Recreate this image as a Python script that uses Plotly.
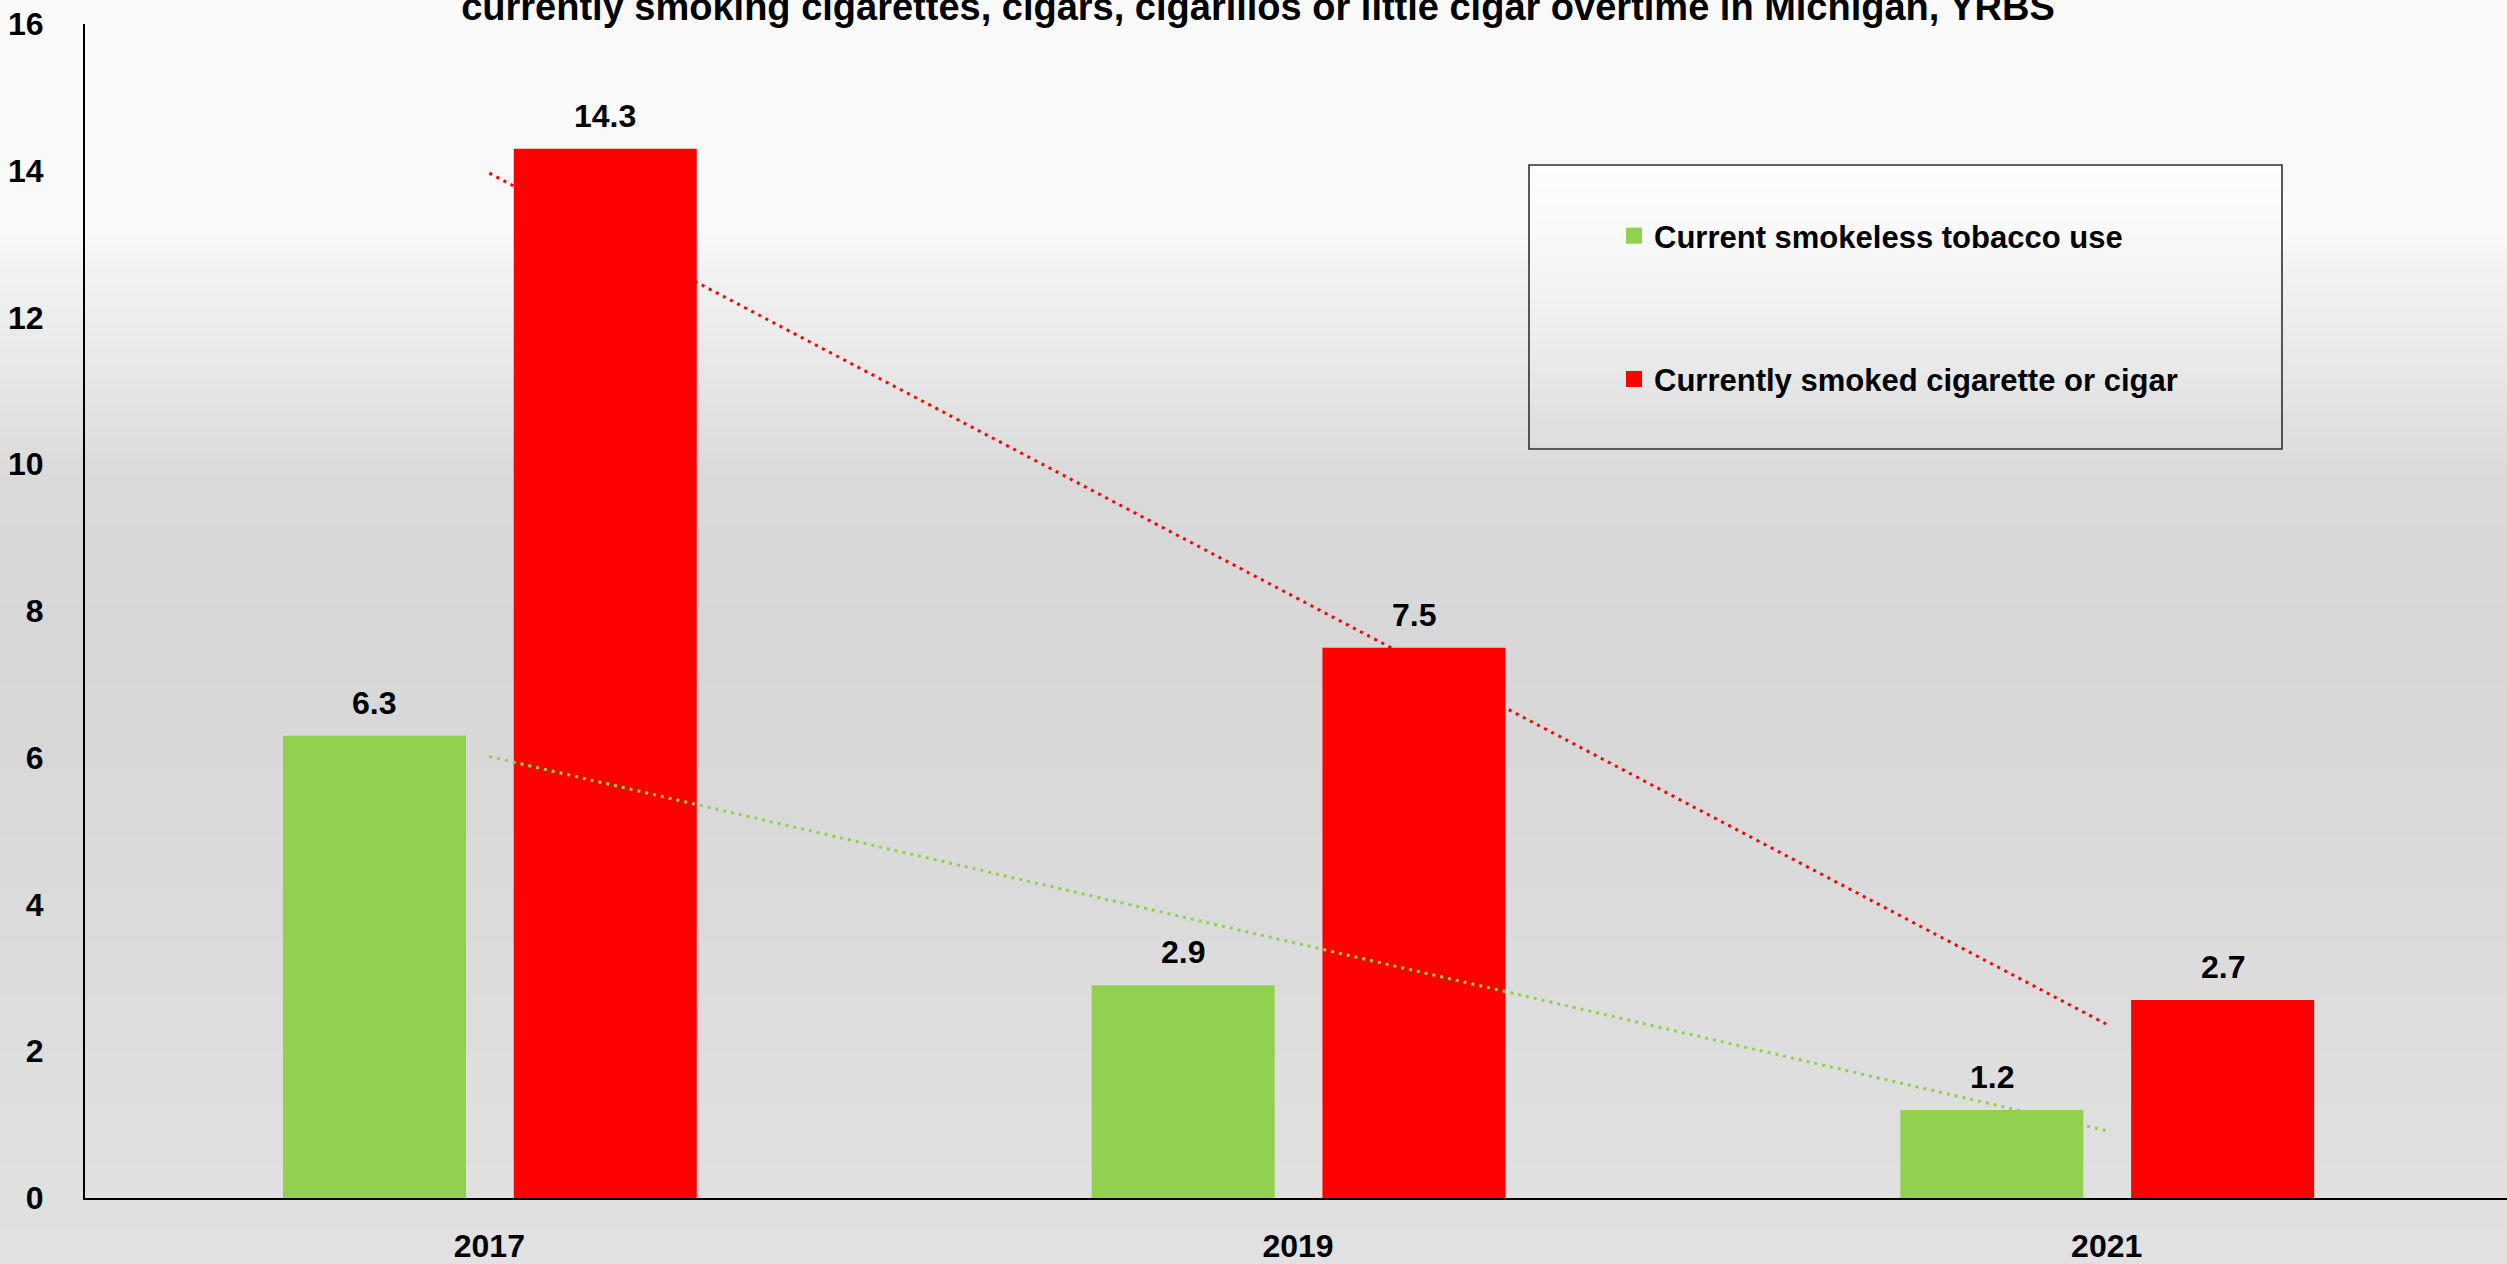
import numpy as np
import plotly.graph_objects as go

# ---------------- data ----------------
years = ["2017", "2019", "2021"]
smokeless = [6.3, 2.9, 1.2]
smoked = [14.3, 7.5, 2.7]
name_smokeless = "Current smokeless tobacco use"
name_smoked = "Currently smoked cigarette or cigar"
title_text = "currently smoking cigarettes, cigars, cigarillos or little cigar overtime in Michigan, YRBS"
y_ticks = [0, 2, 4, 6, 8, 10, 12, 14, 16]

# ---------------- style ----------------
W, H = 2507, 1264
L, R, T, B = 85, 0, 24, 66
PW, PH = W - L - R, H - T - B
FONT = "Liberation Sans, Arial, sans-serif"
GREEN = "#92D050"
RED = "#FF0000"
BAR_W = 0.2263
OFF_GREEN = -0.2552
OFF_RED = 0.0302
XRANGE = [-0.5, 2.495]


def px_x(px):
    return (px - L) / PW


def px_y(py):
    return (T + PH - py) / PH


def interp_gray(stops, t):
    ts = [s[0] for s in stops]
    vs = [s[1] for s in stops]
    v = float(np.interp(t, ts, vs))
    c = int(round(v))
    return f"rgb({c},{c},{c})"


# trend lines (linear least squares like Excel's trendline)
xi = np.arange(len(years))
tr_green = np.polyval(np.polyfit(xi, smokeless, 1), xi)
tr_red = np.polyval(np.polyfit(xi, smoked, 1), xi)

fig = go.Figure()

dot = dict(dash="3px,5px", width=3)
fig.add_trace(go.Scatter(x=years, y=tr_red, mode="lines", line=dict(color=RED, **dot),
                         showlegend=False, hoverinfo="skip", xaxis="x", yaxis="y"))
fig.add_trace(go.Bar(x=years, y=smoked, name=name_smoked, marker=dict(color=RED, line=dict(width=0)),
                     width=BAR_W, offset=OFF_RED, showlegend=False,
                     xaxis="x2", yaxis="y2"))
fig.add_trace(go.Scatter(x=years, y=tr_green, mode="lines", line=dict(color=GREEN, **dot),
                         showlegend=False, hoverinfo="skip", xaxis="x3", yaxis="y3"))
fig.add_trace(go.Bar(x=years, y=smokeless, name=name_smokeless, marker=dict(color=GREEN, line=dict(width=0)),
                     width=BAR_W, offset=OFF_GREEN, showlegend=False,
                     xaxis="x4", yaxis="y4"))

# legend entries (square swatches)
for nm, col, grp, rk in ((name_smokeless, GREEN, "a", 1), (name_smoked, RED, "b", 2)):
    fig.add_trace(go.Scatter(x=[None], y=[None], mode="markers", name=nm,
                             marker=dict(symbol="square", size=20, color=col),
                             legendgroup=grp, legendrank=rk, showlegend=True,
                             xaxis="x4", yaxis="y4"))

# data labels
annotations = []
for vals, off in ((smokeless, OFF_GREEN), (smoked, OFF_RED)):
    for i, v in enumerate(vals):
        annotations.append(dict(x=i + off + BAR_W / 2, y=v, xref="x", yref="y", text=f"{v}",
                                showarrow=False, yanchor="middle", yshift=33,
                                font=dict(family=FONT, size=32, color="black", weight="bold")))

# background gradient bands
shapes = []
bg_stops = [(0, 250), (234, 249), (266, 243), (363, 232), (484, 217), (645, 215),
            (806, 217), (968, 220), (1129, 223), (1264, 225)]
step = 6
for y0 in range(0, H, step):
    col = interp_gray(bg_stops, y0 + step / 2)
    shapes.append(dict(type="rect", xref="paper", yref="paper", x0=px_x(-2), x1=px_x(W + 2),
                       y0=px_y(y0 + step + 0.5), y1=px_y(y0), fillcolor=col, line=dict(width=0),
                       layer="below"))

# legend box with gradient
LX0, LX1, LY0, LY1 = 1529, 2282, 165, 449
lg_stops = [(LY0, 253), (LY0 + 80, 248), (LY0 + 180, 236), (LY1, 220)]
for y0 in range(LY0, LY1, 4):
    y1 = min(y0 + 4, LY1)
    col = interp_gray(lg_stops, (y0 + y1) / 2)
    shapes.append(dict(type="rect", xref="paper", yref="paper", x0=px_x(LX0), x1=px_x(LX1),
                       y0=px_y(y1 + 0.5), y1=px_y(y0), fillcolor=col, line=dict(width=0),
                       layer="below"))
shapes.append(dict(type="rect", xref="paper", yref="paper", x0=px_x(LX0), x1=px_x(LX1),
                   y0=px_y(LY1), y1=px_y(LY0), fillcolor="rgba(0,0,0,0)",
                   line=dict(color="#303030", width=1.6), layer="below"))

tickfont = dict(family=FONT, size=32, color="black", weight="bold")
hidden_x = dict(overlaying="x", matches="x", visible=False, type="category",
                categoryorder="array", categoryarray=years, range=XRANGE)
hidden_y = dict(overlaying="y", matches="y", visible=False, range=[0, 16])

fig.update_layout(
    width=W, height=H,
    margin=dict(l=L, r=R, t=T, b=B, pad=0, autoexpand=False),
    paper_bgcolor="#e0e0e0",
    plot_bgcolor="rgba(0,0,0,0)",
    title=dict(text=title_text, x=1258 / W, xanchor="center", xref="container",
               y=1 - 7 / H, yanchor="middle", yref="container",
               font=dict(family=FONT, size=38, color="black", weight="bold")),
    xaxis=dict(type="category", categoryorder="array", categoryarray=years, range=XRANGE,
               showline=True, linecolor="black", linewidth=2, ticks="", showgrid=False,
               zeroline=False, tickfont=tickfont, ticklabelstandoff=19, automargin=False),
    yaxis=dict(range=[0, 16], tickvals=y_ticks, showline=True, linecolor="black", linewidth=2,
               ticks="", showgrid=False, zeroline=False, tickfont=tickfont, ticklabelstandoff=33,
               automargin=False),
    xaxis2=hidden_x, xaxis3=hidden_x, xaxis4=hidden_x,
    yaxis2=hidden_y, yaxis3=hidden_y, yaxis4=hidden_y,
    showlegend=True,
    legend=dict(x=px_x(1614), y=px_y(209), xanchor="left", yanchor="top",
                bgcolor="rgba(0,0,0,0)", borderwidth=0, tracegroupgap=100,
                itemsizing="trace",
                font=dict(family=FONT, size=31, color="black", weight="bold"),
                traceorder="grouped"),
    shapes=shapes,
    annotations=annotations,
)

fig.write_html("out.html", config={"displayModeBar": False},
               post_script="document.body.style.margin='0';document.body.style.padding='0';")
